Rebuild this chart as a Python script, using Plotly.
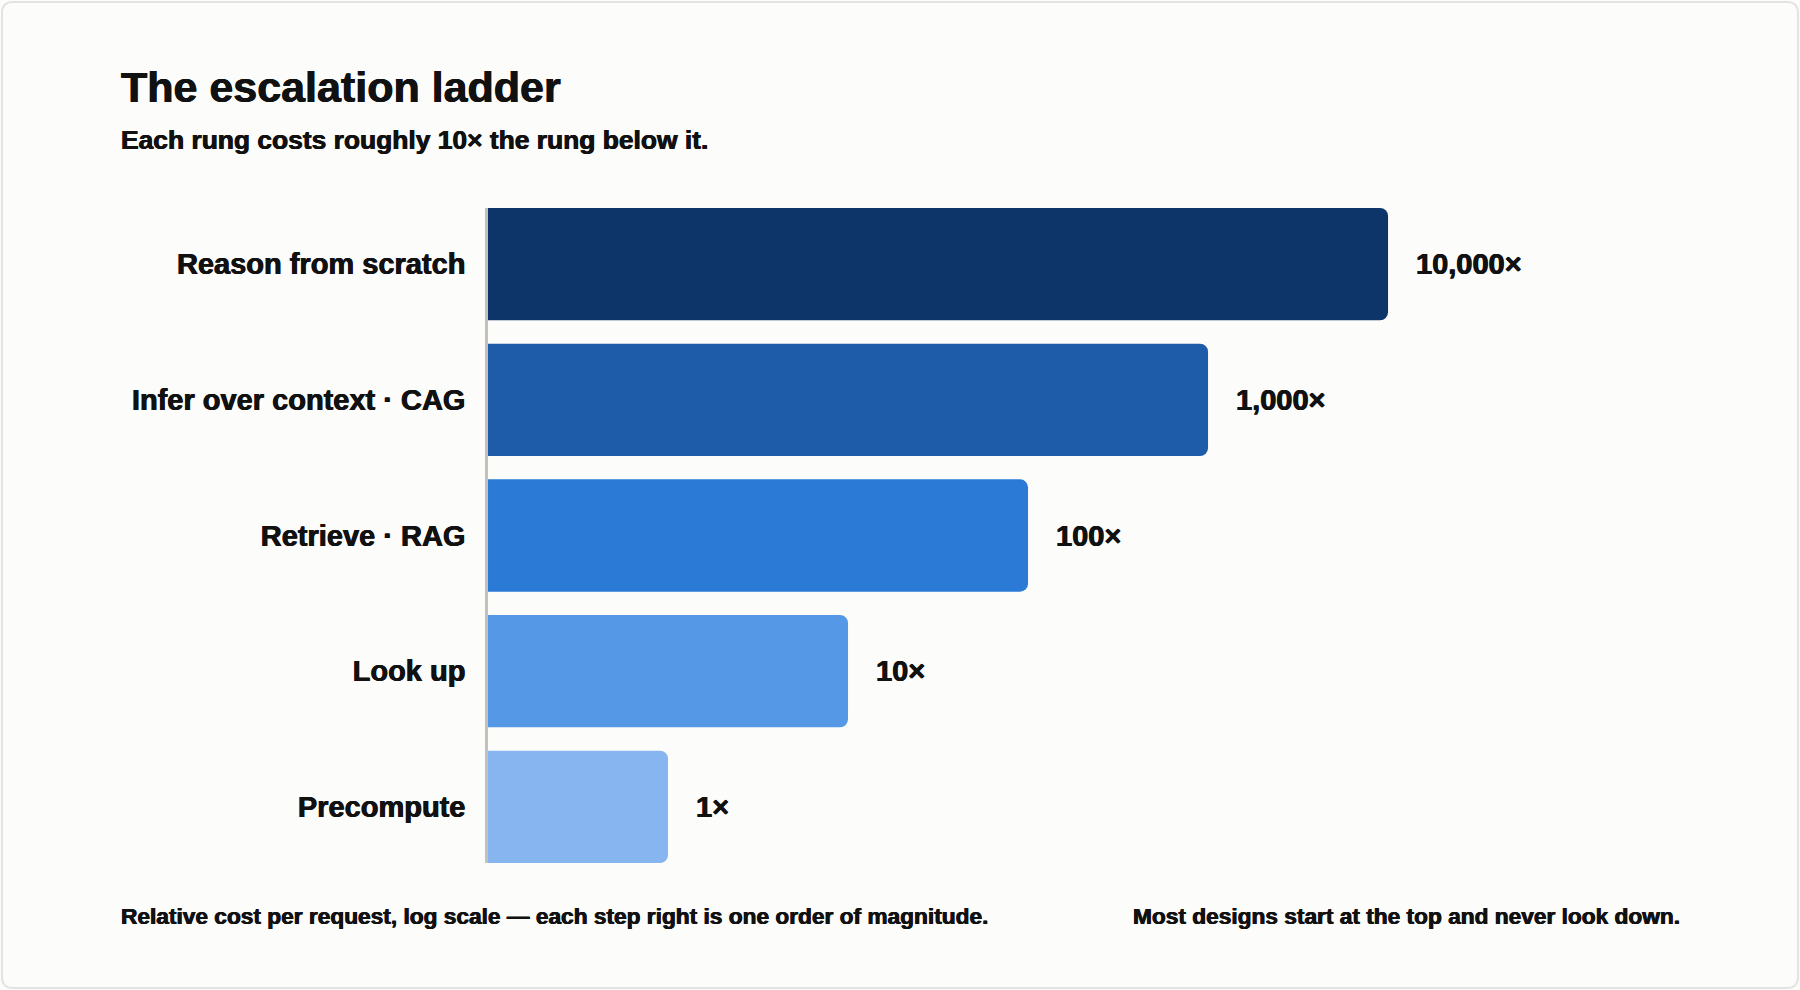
import math
import plotly.graph_objects as go

# ---- data (bottom rung first) ----
categories = ["Precompute", "Look up", "Retrieve · RAG", "Infer over context · CAG", "Reason from scratch"]
relative_cost = [1, 10, 100, 1000, 10000]
value_labels = ["1×", "10×", "100×", "1,000×", "10,000×"]
bar_colors = ["#86b5ef", "#5599e6", "#2a7ad6", "#1e5ca9", "#0d3569"]

title_text = "The escalation ladder"
subtitle_text = "Each rung costs roughly 10× the rung below it."
footer_left = "Relative cost per request, log scale — each step right is one order of magnitude."
footer_right = "Most designs start at the top and never look down."

W, H = 1800, 990
ML, MR, MT, MB = 488, 118, 208, 127
PW, PH = W - ML - MR, H - MT - MB

FONT = "Liberation Sans, Arial, Helvetica, sans-serif"
INK = "#111111"
HEAVY = "0.45px 0 0 #111111, -0.45px 0 0 #111111"


def px(xp):
    return (xp - ML) / PW


def py(yp):
    return (H - MB - yp) / PH


def f(size):
    return dict(family=FONT, size=size, color=INK, weight="bold", shadow=HEAVY)


fig = go.Figure()
fig.add_trace(go.Bar(
    y=categories,
    x=relative_cost,
    orientation="h",
    marker=dict(color=bar_colors, cornerradius=8, line=dict(width=0)),
    hoverinfo="skip",
))

annotations = []
for cat, val, lab in zip(categories, relative_cost, value_labels):
    annotations.append(dict(
        x=math.log10(val), y=cat, xref="x", yref="y",
        text=lab, showarrow=False, xanchor="left", yanchor="middle",
        xshift=26, font=f(29),
    ))

annotations += [
    dict(xref="paper", yref="paper", x=px(119), y=py(87), text=title_text,
         showarrow=False, xanchor="left", yanchor="middle", font=f(43)),
    dict(xref="paper", yref="paper", x=px(119), y=py(140), text=subtitle_text,
         showarrow=False, xanchor="left", yanchor="middle", font=f(26.4)),
    dict(xref="paper", yref="paper", x=px(119), y=py(916), text=footer_left,
         showarrow=False, xanchor="left", yanchor="middle", font=f(22.7)),
    dict(xref="paper", yref="paper", x=px(1682), y=py(916), text=footer_right,
         showarrow=False, xanchor="right", yanchor="middle", font=f(22.7)),
]

# card border (rounded rectangle)
x0, y0, x1, y1, r = 2, 2, 1798, 988, 11
pts = [
    ("M", [(x0 + r, y0)]), ("L", [(x1 - r, y0)]), ("Q", [(x1, y0), (x1, y0 + r)]),
    ("L", [(x1, y1 - r)]), ("Q", [(x1, y1), (x1 - r, y1)]), ("L", [(x0 + r, y1)]),
    ("Q", [(x0, y1), (x0, y1 - r)]), ("L", [(x0, y0 + r)]), ("Q", [(x0, y0), (x0 + r, y0)]),
]
path = " ".join(c + " " + " ".join(f"{px(a):.5f},{py(b):.5f}" for a, b in p) for c, p in pts) + " Z"

fig.update_layout(
    width=W, height=H,
    margin=dict(l=ML, r=MR, t=MT, b=MB, pad=0),
    paper_bgcolor="#fcfcfb", plot_bgcolor="rgba(0,0,0,0)",
    showlegend=False,
    bargap=0.172,
    annotations=annotations,
    shapes=[dict(type="path", path=path, xref="paper", yref="paper",
                 line=dict(color="#e3e3e1", width=2), fillcolor="rgba(0,0,0,0)", layer="below")],
    xaxis=dict(type="log", range=[-1, 5.633], showgrid=False, zeroline=False,
               showline=False, showticklabels=False, ticks=""),
    yaxis=dict(type="category", categoryorder="array", categoryarray=categories,
               range=[-0.414, 4.414], showgrid=False, zeroline=False,
               showline=True, linecolor="#c4c1b9", linewidth=2.5, ticks="",
               ticklabelstandoff=14,
               tickfont=f(29)),
    font=dict(family=FONT, color=INK),
)

fig.write_html(
    "out.html",
    config={"displayModeBar": False},
    post_script="document.body.style.margin='0';document.body.style.background='#ffffff';",
)
